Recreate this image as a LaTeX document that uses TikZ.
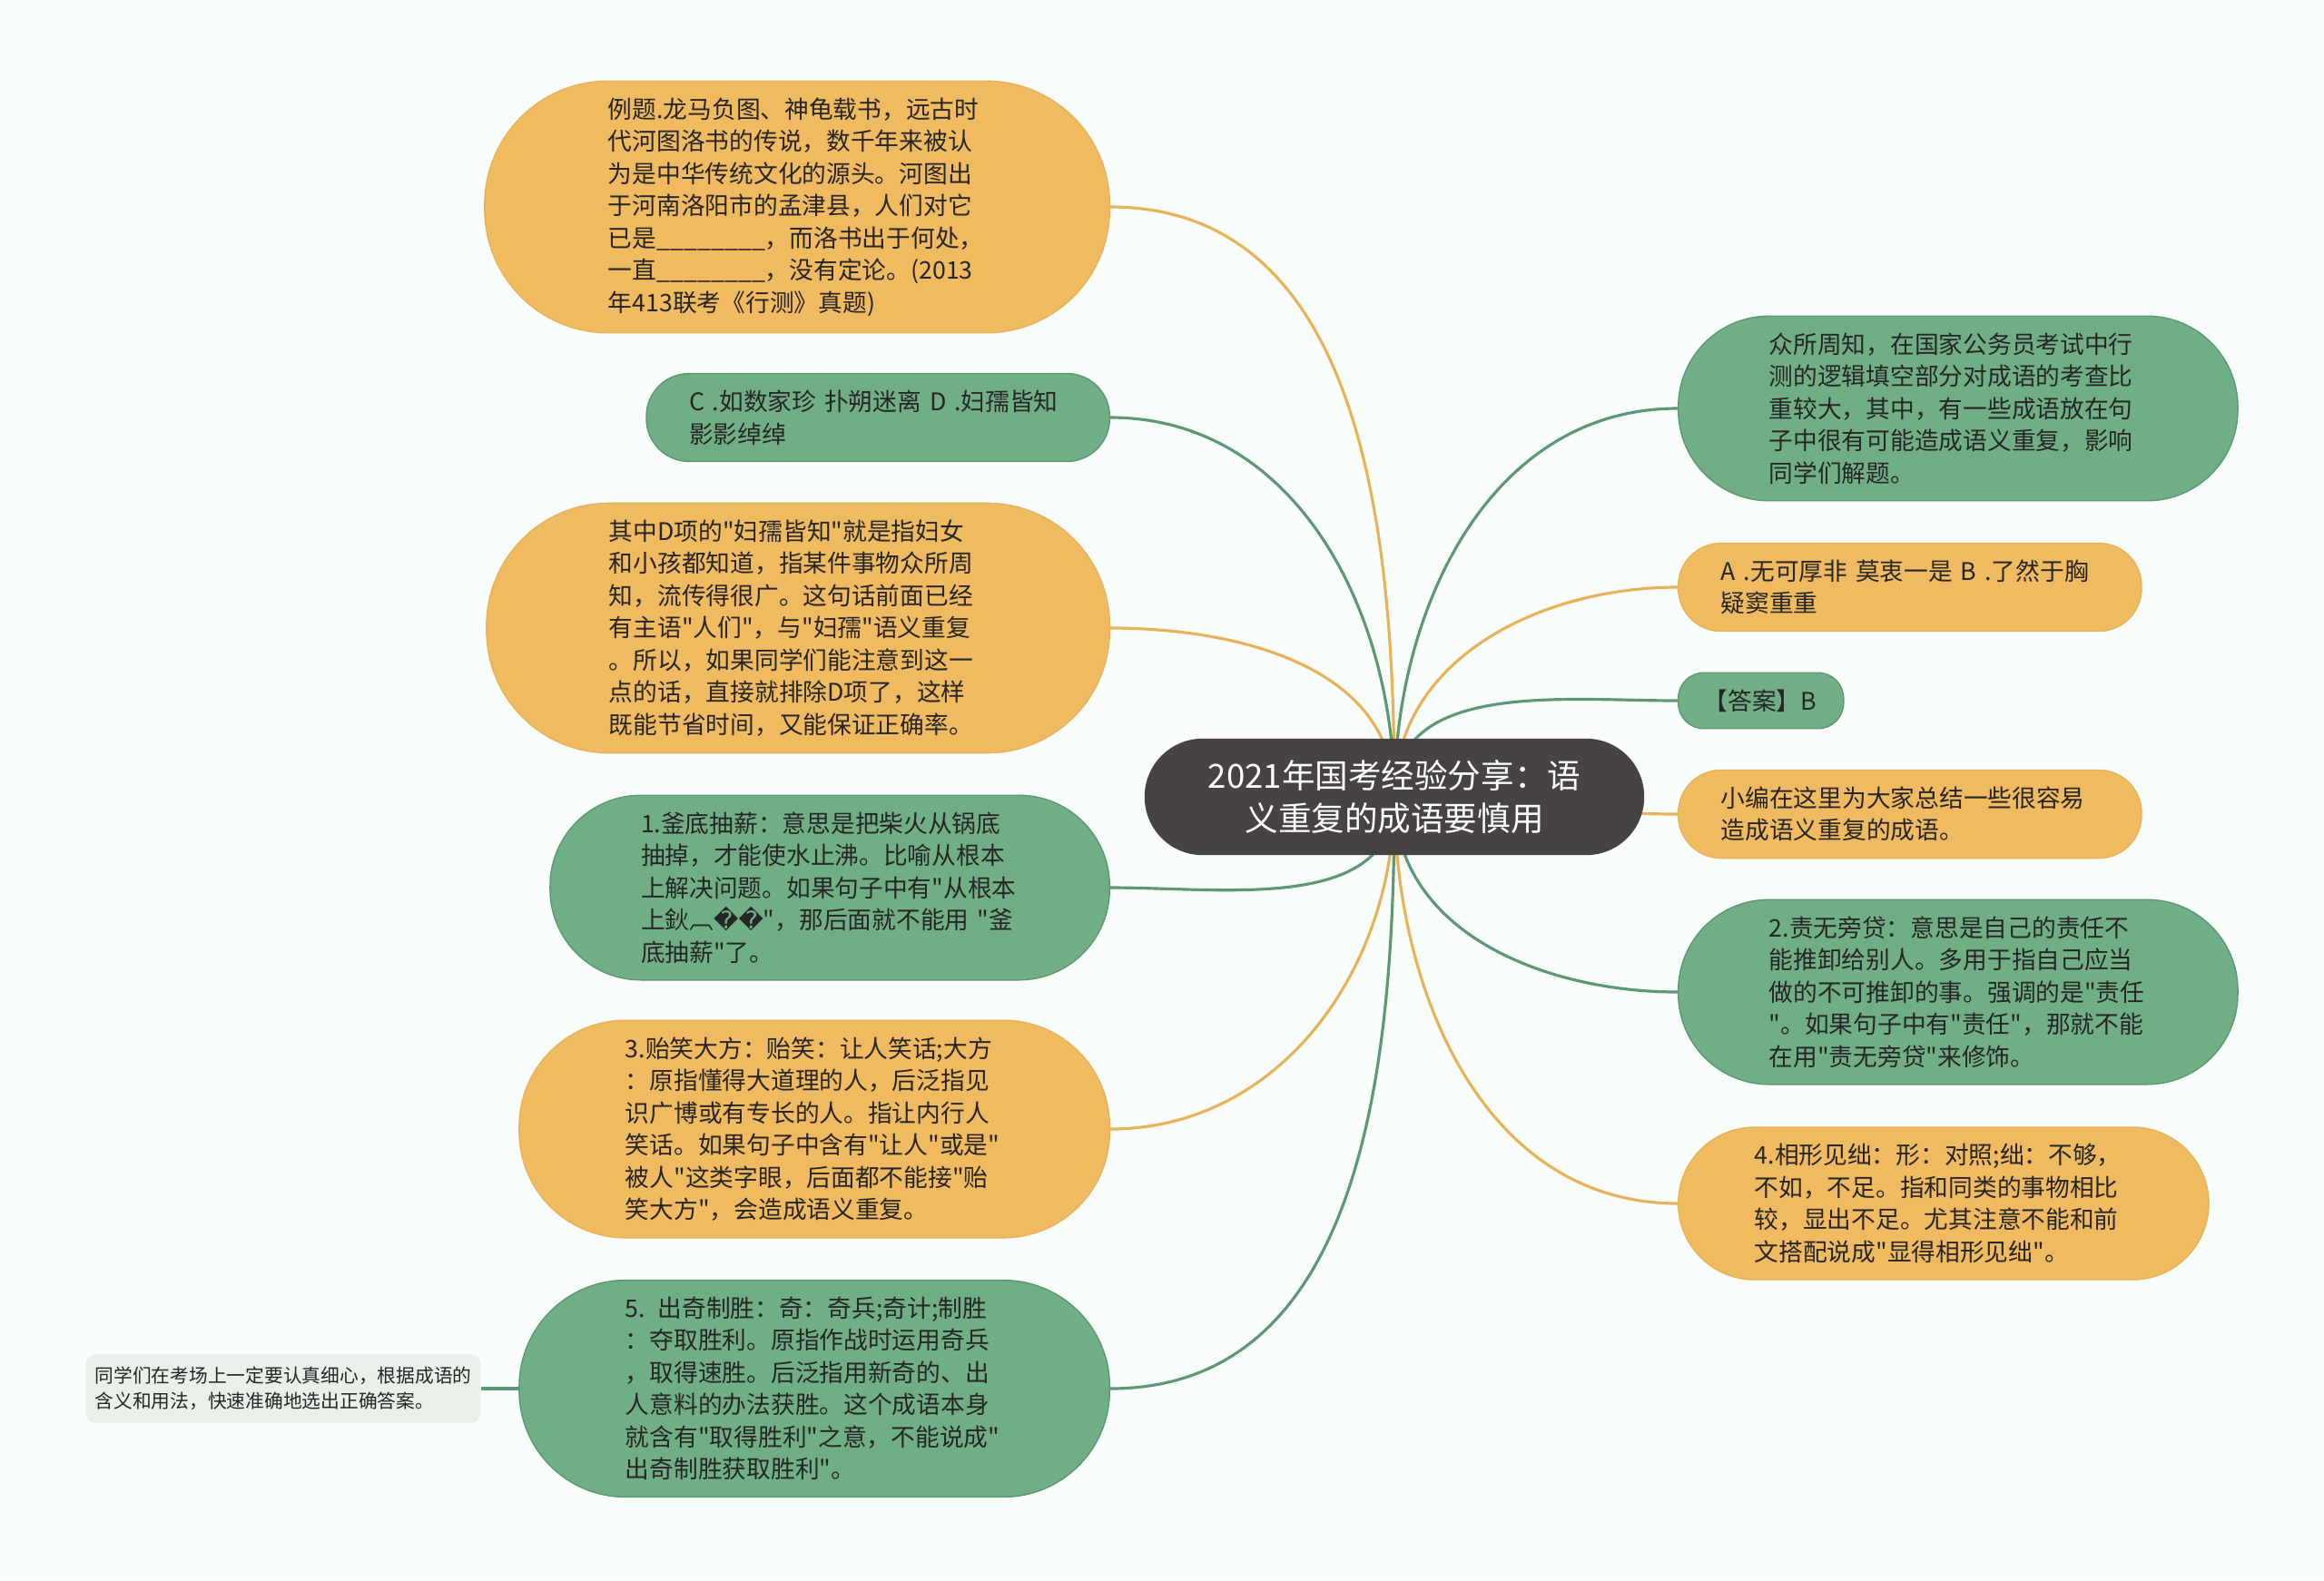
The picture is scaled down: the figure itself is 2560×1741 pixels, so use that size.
\documentclass[tikz,border=0pt]{standalone}
\usepackage{fontspec}
\setmainfont{Noto Sans CJK SC}[Ligatures=TeXOff]
\newfontfamily\symfont{DejaVu Sans}
\usetikzlibrary{positioning,backgrounds}

\definecolor{orng}{RGB}{240,186,96}
\definecolor{orngl}{RGB}{232,178,88}
\definecolor{grn}{RGB}{112,174,134}
\definecolor{grnl}{RGB}{92,152,114}
\definecolor{dark}{RGB}{72,67,67}
\definecolor{pale}{RGB}{232,240,233}
\definecolor{paper}{RGB}{249,253,251}
\definecolor{ink}{RGB}{38,38,38}

\begin{document}
\begin{tikzpicture}[x=0.01cm, y=0.01cm,
    main/.style = {rectangle, align=left, text=ink, text width=4.16cm, inner ysep=5.2pt,
        line width=0.4pt, font=\fontsize{7.6pt}{10.1pt}\selectfont},
    pill/.style = {main, rounded corners=#1, inner xsep=#1},
    topic/.style = {rectangle, rounded corners=0.64cm, fill=dark, text=white, align=center,
        inner xsep=0.7cm, inner ysep=6.7pt, font=\fontsize{10.4pt}{13.4pt}\selectfont},
    note/.style = {rectangle, rounded corners=3pt, fill=pale, align=left, text=ink,
        inner xsep=2.8pt, inner ysep=3.9pt, font=\fontsize{5.9pt}{8pt}\selectfont},
    link/.style = {draw=#1, line width=0.9pt}
    ]
\useasboundingbox (0,0) rectangle (2560,-1741);

\node[topic] (0) at (1536,-878) {2021年国考经验分享：语\\义重复的成语要慎用};

% left side
\node[pill=1.36cm, fill=orng, draw=orngl, anchor=east] (1) at (1223,-228) {例题.龙马负图、神龟载书，远古时\\代河图洛书的传说，数千年来被认\\为是中华传统文化的源头。河图出\\于河南洛阳市的孟津县，人们对它\\已是\_\_\_\_\_\_\_\_，而洛书出于何处，\\一直\_\_\_\_\_\_\_\_，没有定论。(2013\\年413联考《行测》真题)};
\node[pill=0.47cm, fill=grn, draw=grnl, anchor=east] (2) at (1223,-460) {C .如数家珍 扑朔迷离 D .妇孺皆知\\影影绰绰};
\node[pill=1.35cm, fill=orng, draw=orngl, anchor=east] (3) at (1223,-692) {其中D项的"妇孺皆知"就是指妇女\\和小孩都知道，指某件事物众所周\\知，流传得很广。这句话前面已经\\有主语"人们"，与"妇孺"语义重复\\。所以，如果同学们能注意到这一\\点的话，直接就排除D项了，这样\\既能节省时间，又能保证正确率。};
\node[pill=1cm, fill=grn, draw=grnl, anchor=east] (4) at (1223,-978) {1.釜底抽薪：意思是把柴火从锅底\\抽掉，才能使水止沸。比喻从根本\\上解决问题。如果句子中有"从根本\\上鈥︹{\symfont ��}"，那后面就不能用 "釜\\底抽薪"了。};
\node[pill=1.17cm, fill=orng, draw=orngl, anchor=east] (5) at (1223,-1244) {3.贻笑大方：贻笑：让人笑话;大方\\：原指懂得大道理的人，后泛指见\\识广博或有专长的人。指让内行人\\笑话。如果句子中含有"让人"或是"\\被人"这类字眼，后面都不能接"贻\\笑大方"，会造成语义重复。};
\node[pill=1.17cm, fill=grn, draw=grnl, anchor=east] (6) at (1223,-1530) {5. 出奇制胜：奇：奇兵;奇计;制胜\\：夺取胜利。原指作战时运用奇兵\\，取得速胜。后泛指用新奇的、出\\人意料的办法获胜。这个成语本身\\就含有"取得胜利"之意，不能说成"\\出奇制胜获取胜利"。};
\node[note] (7) [left=0.41cm of 6] {同学们在考场上一定要认真细心，根据成语的\\含义和用法，快速准确地选出正确答案。};

% right side
\node[pill=1cm, fill=grn, draw=grnl, anchor=west] (8) at (1848,-450) {众所周知，在国家公务员考试中行\\测的逻辑填空部分对成语的考查比\\重较大，其中，有一些成语放在句\\子中很有可能造成语义重复，影响\\同学们解题。};
\node[pill=0.47cm, fill=orng, draw=orngl, anchor=west] (9) at (1848,-647) {A .无可厚非 莫衷一是 B .了然于胸\\疑窦重重};
\node[pill=0.28cm, fill=grn, draw=grnl, anchor=west, text width=1.26cm] (10) at (1848,-772) {【答案】B};
\node[pill=0.47cm, fill=orng, draw=orngl, anchor=west] (11) at (1848,-897) {小编在这里为大家总结一些很容易\\造成语义重复的成语。};
\node[pill=1cm, fill=grn, draw=grnl, anchor=west] (12) at (1848,-1093) {2.责无旁贷：意思是自己的责任不\\能推卸给别人。多用于指自己应当\\做的不可推卸的事。强调的是"责任\\"。如果句子中有"责任"，那就不能\\在用"责无旁贷"来修饰。};
\node[pill=0.84cm, fill=orng, draw=orngl, anchor=west] (13) at (1848,-1326) {4.相形见绌：形：对照;绌：不够，\\不如，不足。指和同类的事物相比\\较，显出不足。尤其注意不能和前\\文搭配说成"显得相形见绌"。};

\begin{scope}[on background layer]
\fill[paper] (0,0) rectangle (2560,-1741);

\draw[link=orngl] (0.center) to[out=90,in=0] (1.east);
\draw[link=grnl] (0.center) to[out=90,in=0] (2.east);
\draw[link=orngl] (0.center) to[out=90,in=0] (3.east);
\draw[link=grnl] (0.center) to[out=-90,in=0] (4.east);
\draw[link=orngl] (0.center) to[out=-90,in=0] (5.east);
\draw[link=grnl] (0.center) to[out=-90,in=0] (6.east);
\draw[link=grnl] (6.west) -- (7.east);

\draw[link=grnl] (0.center) to[out=90,in=180] (8.west);
\draw[link=orngl] (0.center) to[out=90,in=180] (9.west);
\draw[link=grnl] (0.center) to[out=90,in=180] (10.west);
\draw[link=orngl] (0.center) to[out=0,in=180] (11.west);
\draw[link=grnl] (0.center) to[out=-90,in=180] (12.west);
\draw[link=orngl] (0.center) to[out=-90,in=180] (13.west);
\end{scope}

\end{tikzpicture}
\end{document}
